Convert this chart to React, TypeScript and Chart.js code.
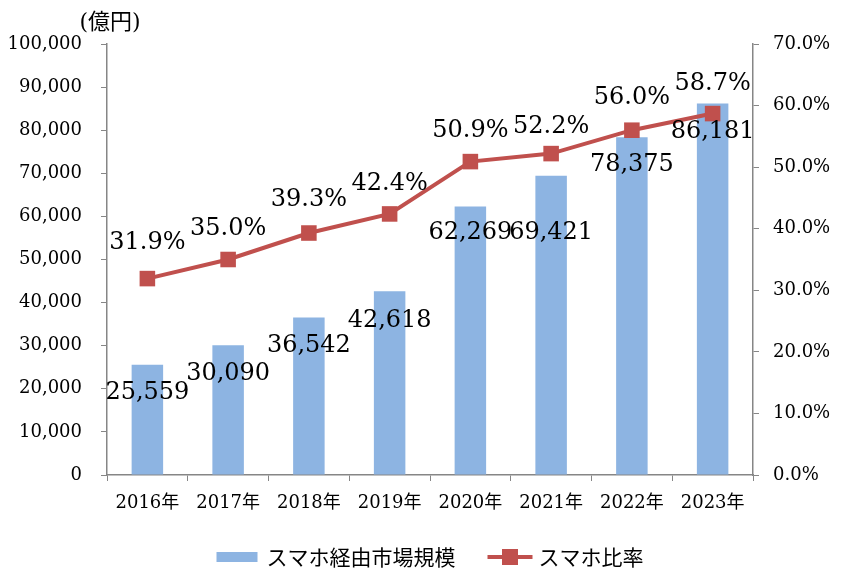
import React, { useEffect, useRef } from 'react';
import { Chart, registerables } from 'chart.js';

Chart.register(...registerables);

const categories = ['2016年', '2017年', '2018年', '2019年', '2020年', '2021年', '2022年', '2023年'];
const marketSize = [25559, 30090, 36542, 42618, 62269, 69421, 78375, 86181];
const smartphoneShare = [31.9, 35.0, 39.3, 42.4, 50.9, 52.2, 56.0, 58.7];
const leftAxisMax = 100000;
const leftAxisStep = 10000;
const rightAxisMax = 70;
const rightAxisStep = 10;
const barSeriesName = 'スマホ経由市場規模';
const lineSeriesName = 'スマホ比率';
const unitLabel = '(億円)';

// label placement offsets (pixels), as in the reference layout
const barLabelOffsets = [28, 28, 28, 29, 26, 57, 28, 28];
const lineLabelOffsets = [36, 31, 33, 30, 31, 27, 32, 30];

const BAR_COLOR = '#8DB4E2';
const LINE_COLOR = '#C0504D';
const AXIS_COLOR = '#868686';
const SERIF = '"DejaVu Serif", "Noto Sans CJK JP", serif';

const labelsPlugin = {
  id: 'customLabels',
  afterDatasetsDraw(chart: any) {
    const ctx = chart.ctx;
    ctx.save();
    ctx.fillStyle = '#000';
    ctx.textAlign = 'center';
    ctx.textBaseline = 'middle';
    ctx.font = '24px ' + SERIF;
    const barMeta = chart.getDatasetMeta(0);
    barMeta.data.forEach((el: any, i: number) => {
      ctx.fillText(marketSize[i].toLocaleString('en-US'), el.x, el.y + barLabelOffsets[i]);
    });
    const lineMeta = chart.getDatasetMeta(1);
    lineMeta.data.forEach((el: any, i: number) => {
      ctx.fillText(smartphoneShare[i].toFixed(1) + '%', el.x, el.y - lineLabelOffsets[i]);
    });
    // unit label
    const area = chart.chartArea;
    ctx.font = '22px ' + SERIF;
    ctx.fillText(unitLabel, area.left + 3, area.top - 21);
    ctx.restore();
  },
  afterDraw(chart: any) {
    const ctx = chart.ctx;
    const area = chart.chartArea;
    ctx.save();
    ctx.font = '21px "Noto Sans CJK JP", sans-serif';
    ctx.textBaseline = 'middle';
    ctx.textAlign = 'left';
    const t1 = ctx.measureText(barSeriesName).width;
    const t2 = ctx.measureText(lineSeriesName).width;
    const boxW = 41;
    const lineW = 45;
    const total = boxW + 9 + t1 + 32 + lineW + 6 + t2;
    const cx = (area.left + area.right) / 2;
    let x = cx - total / 2;
    const y = 557;
    ctx.fillStyle = BAR_COLOR;
    ctx.fillRect(x, y - 5, boxW, 10);
    x += boxW + 9;
    ctx.fillStyle = '#000';
    ctx.fillText(barSeriesName, x, y);
    x += t1 + 32;
    ctx.strokeStyle = LINE_COLOR;
    ctx.lineWidth = 4;
    ctx.beginPath();
    ctx.moveTo(x, y);
    ctx.lineTo(x + lineW, y);
    ctx.stroke();
    ctx.fillStyle = LINE_COLOR;
    ctx.fillRect(x + lineW / 2 - 8, y - 8, 16, 16);
    x += lineW + 6;
    ctx.fillStyle = '#000';
    ctx.fillText(lineSeriesName, x, y);
    ctx.restore();
  },
};

export default function App() {
  const canvasRef = useRef<HTMLCanvasElement | null>(null);

  useEffect(() => {
    const canvas = canvasRef.current;
    if (!canvas) return;
    const chart = new Chart(canvas, {
      type: 'bar',
      data: {
        labels: categories,
        datasets: [
          {
            type: 'bar',
            label: barSeriesName,
            data: marketSize,
            backgroundColor: BAR_COLOR,
            borderWidth: 0,
            barPercentage: 0.39,
            categoryPercentage: 1,
            yAxisID: 'y',
            order: 2,
          },
          {
            type: 'line',
            label: lineSeriesName,
            data: smartphoneShare,
            borderColor: LINE_COLOR,
            backgroundColor: LINE_COLOR,
            borderWidth: 4,
            pointStyle: 'rect',
            pointRadius: 11,
            pointBorderWidth: 0,
            pointBackgroundColor: LINE_COLOR,
            tension: 0,
            yAxisID: 'y1',
            order: 1,
          },
        ],
      },
      options: {
        responsive: false,
        animation: false,
        layout: { padding: { top: 44, left: 0, right: 0, bottom: 62 } },
        plugins: {
          legend: { display: false },
          tooltip: { enabled: false },
        },
        scales: {
          x: {
            offset: true,
            grid: {
              offset: true,
              drawOnChartArea: false,
              drawTicks: true,
              tickLength: 6,
              color: AXIS_COLOR,
            },
            border: { color: AXIS_COLOR, width: 1.5 },
            ticks: {
              color: '#000',
              padding: 12,
              font: { family: SERIF, size: 18 },
              maxRotation: 0,
              autoSkip: false,
            },
            afterFit(scale: any) {
              scale.height = 45;
            },
          },
          y: {
            position: 'left',
            min: 0,
            max: leftAxisMax,
            grid: {
              drawOnChartArea: false,
              drawTicks: true,
              tickLength: 6,
              color: AXIS_COLOR,
            },
            border: { color: AXIS_COLOR, width: 1.5 },
            ticks: {
              stepSize: leftAxisStep,
              color: '#000',
              padding: 19,
              font: { family: SERIF, size: 18 },
              callback: (v: any) => Number(v).toLocaleString('en-US'),
            },
            afterFit(scale: any) {
              scale.width = 107;
            },
          },
          y1: {
            position: 'right',
            min: 0,
            max: rightAxisMax,
            grid: {
              drawOnChartArea: false,
              drawTicks: true,
              tickLength: 6,
              color: AXIS_COLOR,
            },
            border: { color: AXIS_COLOR, width: 1.5 },
            ticks: {
              stepSize: rightAxisStep,
              color: '#000',
              padding: 14,
              font: { family: SERIF, size: 18 },
              callback: (v: any) => Number(v).toFixed(1) + '%',
            },
            afterFit(scale: any) {
              scale.width = 108;
            },
          },
        },
      },
      plugins: [labelsPlugin],
    } as any);
    return () => chart.destroy();
  }, []);

  return (
    <div style={{ position: 'fixed', left: 0, top: 0, width: 861, height: 582, background: '#fff' }}>
      <canvas ref={canvasRef} width={861} height={582} style={{ display: 'block' }} />
    </div>
  );
}
